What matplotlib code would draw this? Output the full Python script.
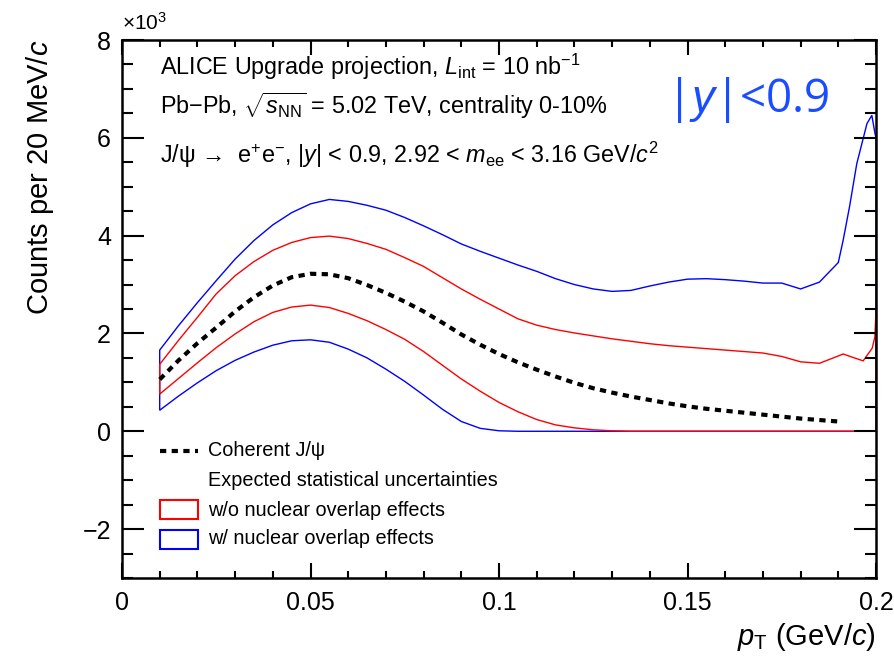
import numpy as np
import matplotlib.pyplot as plt
from matplotlib.ticker import MultipleLocator, FuncFormatter

plt.rcParams['font.family'] = ['Liberation Sans', 'DejaVu Sans']
plt.rcParams['mathtext.fontset'] = 'custom'
plt.rcParams['mathtext.rm'] = 'Liberation Sans'
plt.rcParams['mathtext.it'] = 'Liberation Sans:italic'

# pT grid (GeV/c) and curves (counts x 10^3)
pt = [0.010, 0.015, 0.020, 0.025, 0.030, 0.035, 0.040, 0.045, 0.050, 0.055,
      0.060, 0.065, 0.070, 0.075, 0.080, 0.085, 0.090, 0.095, 0.100, 0.105,
      0.110, 0.115, 0.120, 0.125, 0.130, 0.135, 0.140, 0.145, 0.150, 0.155,
      0.160, 0.165, 0.170, 0.175, 0.180, 0.185, 0.190]

coherent = [1.06, 1.45, 1.80, 2.12, 2.45, 2.74, 2.98, 3.15, 3.22, 3.21,
            3.13, 2.99, 2.83, 2.65, 2.45, 2.22, 1.98, 1.77, 1.58, 1.41,
            1.26, 1.12, 0.99, 0.88, 0.79, 0.71, 0.64, 0.57, 0.51, 0.46,
            0.42, 0.38, 0.34, 0.30, 0.26, 0.23, 0.20]

# w/o nuclear overlap effects (red band)
red_pt_hi = pt + [0.1913, 0.1935, 0.1966, 0.1990, 0.1997, 0.2000]
red_hi = [1.37, 1.86, 2.33, 2.81, 3.18, 3.47, 3.70, 3.86, 3.96, 3.99,
          3.94, 3.84, 3.72, 3.55, 3.37, 3.14, 2.91, 2.70, 2.50, 2.30,
          2.17, 2.08, 2.01, 1.95, 1.89, 1.84, 1.79, 1.75, 1.72, 1.69,
          1.66, 1.63, 1.60, 1.53, 1.42, 1.39, 1.54,
          1.58, 1.52, 1.44, 1.70, 1.93, 2.47]
red_pt_lo = pt + [0.195, 0.200]
red_lo = [0.76, 1.08, 1.40, 1.71, 1.99, 2.24, 2.43, 2.54, 2.58, 2.53,
          2.41, 2.26, 2.08, 1.88, 1.63, 1.35, 1.07, 0.82, 0.59, 0.40,
          0.24, 0.13, 0.07, 0.03, 0.01, 0.0, 0.0, 0.0, 0.0, 0.0,
          0.0, 0.0, 0.0, 0.0, 0.0, 0.0, 0.0, 0.0, 0.0]

# w/ nuclear overlap effects (blue band)
blue_pt_hi = pt + [0.1913, 0.1930, 0.1949, 0.1976, 0.1989, 0.1997, 0.2000]
blue_hi = [1.66, 2.16, 2.63, 3.08, 3.52, 3.90, 4.22, 4.47, 4.65, 4.74,
           4.70, 4.62, 4.52, 4.37, 4.20, 4.02, 3.83, 3.68, 3.54, 3.40,
           3.27, 3.12, 3.00, 2.91, 2.86, 2.88, 2.97, 3.05, 3.11, 3.12,
           3.10, 3.07, 3.03, 3.03, 2.91, 3.05, 3.45,
           3.91, 4.60, 5.47, 6.29, 6.46, 6.10, 6.00]
blue_pt_lo = pt + [0.195, 0.200]
blue_lo = [0.43, 0.72, 0.99, 1.24, 1.45, 1.62, 1.76, 1.85, 1.87, 1.82,
           1.68, 1.50, 1.27, 1.02, 0.74, 0.45, 0.20, 0.06, 0.01, 0.0,
           0.0, 0.0, 0.0, 0.0, 0.0, 0.0, 0.0, 0.0, 0.0, 0.0,
           0.0, 0.0, 0.0, 0.0, 0.0, 0.0, 0.0, 0.0, 0.0]

fig = plt.figure(figsize=(8.95, 6.61), dpi=100)
ax = fig.add_axes([122 / 895, 1 - 578 / 661, 754 / 895, 538 / 661])

# bands as closed outlines
ax.fill(blue_pt_hi + blue_pt_lo[::-1], blue_hi + blue_lo[::-1],
        fill=False, edgecolor='#0000ff', lw=1.0)
ax.fill(red_pt_hi + red_pt_lo[::-1], red_hi + red_lo[::-1],
        fill=False, edgecolor='#ff0000', lw=1.0)
ax.plot(pt, coherent, color='black', lw=3, linestyle=(0, (1.5, 1.3)))

ax.set_xlim(0, 0.2)
ax.set_ylim(-3, 8)

ax.xaxis.set_major_locator(MultipleLocator(0.05))
ax.xaxis.set_minor_locator(MultipleLocator(0.01))
ax.yaxis.set_major_locator(MultipleLocator(2))
ax.yaxis.set_minor_locator(MultipleLocator(0.5))
ax.xaxis.set_major_formatter(FuncFormatter(lambda v, p: f"{v:g}"))
ax.yaxis.set_major_formatter(FuncFormatter(lambda v, p: f"{v:g}".replace('-', '\u2212')))

ax.tick_params(axis='both', which='both', direction='in', top=True, right=True,
               width=1.5, labelsize=18, colors='black')
ax.tick_params(axis='x', which='major', length=10.5, pad=9)
ax.tick_params(axis='x', which='minor', length=5)
ax.tick_params(axis='y', which='major', length=16, pad=8)
ax.tick_params(axis='y', which='minor', length=8)
for s in ax.spines.values():
    s.set_linewidth(1.8)

ax.set_ylabel('Counts per 20 MeV/$c$', fontsize=21, loc='top')
ax.yaxis.set_label_coords(-0.088, 1.0)
ax.set_xlabel('$p_{\\rm T}$ (GeV/$c$)', fontsize=21, loc='right')
ax.xaxis.set_label_coords(1.0, -0.08)

ax.text(0.0, 1.012, '\u00d710$^{3}$', transform=ax.transAxes, fontsize=15,
        ha='left', va='bottom')

# header text
hx = 160
ax.annotate(r'ALICE Upgrade projection, $L_{\rm int}$ = 10 nb$^{-1}$',
            xy=(hx / 895, 1 - 67 / 661), xycoords='figure fraction',
            fontsize=16.8, va='center')
ax.annotate(r'Pb$-$Pb, $\sqrt{s_{\rm NN}}$ = 5.02 TeV, centrality 0-10%',
            xy=(hx / 895, 1 - 106 / 661), xycoords='figure fraction',
            fontsize=16.8, va='center')
ax.annotate('J/\u03c8 \u2192  e$^{+}$e$^{-}$, |$y$| < 0.9, 2.92 < $m_{\\rm ee}$ < 3.16 GeV/$c^{2}$',
            xy=(hx / 895, 1 - 155 / 661), xycoords='figure fraction',
            fontsize=16.8, va='center')
ax.annotate('|$y$|<0.9', xy=(666 / 895, 1 - 100 / 661), xycoords='figure fraction',
            fontsize=33, va='center', color='#1a4dff', family='Open Sans')

# legend
lx0, lx1, tx = 160 / 895, 198 / 895, 208 / 895
def fy(py):
    return 1 - py / 661
fig.add_artist(plt.Line2D([lx0, lx1], [fy(451), fy(451)], color='black', lw=3,
                          linestyle=(0, (1.5, 1.3))))
fig.text(tx, fy(451), 'Coherent J/\u03c8', fontsize=14.3, va='center')
fig.text(tx, fy(480), 'Expected statistical uncertainties', fontsize=14.3, va='center')
fig.add_artist(plt.Rectangle((lx0, fy(519)), lx1 - lx0, 19 / 661, fill=False,
                             edgecolor='#ff0000', lw=1.5))
fig.text(tx, fy(510), 'w/o nuclear overlap effects', fontsize=14.3, va='center')
fig.add_artist(plt.Rectangle((lx0, fy(549)), lx1 - lx0, 19 / 661, fill=False,
                             edgecolor='#0000ff', lw=1.5))
fig.text(tx, fy(539), 'w/ nuclear overlap effects', fontsize=14.3, va='center')

fig.savefig('out.png', dpi=100)
